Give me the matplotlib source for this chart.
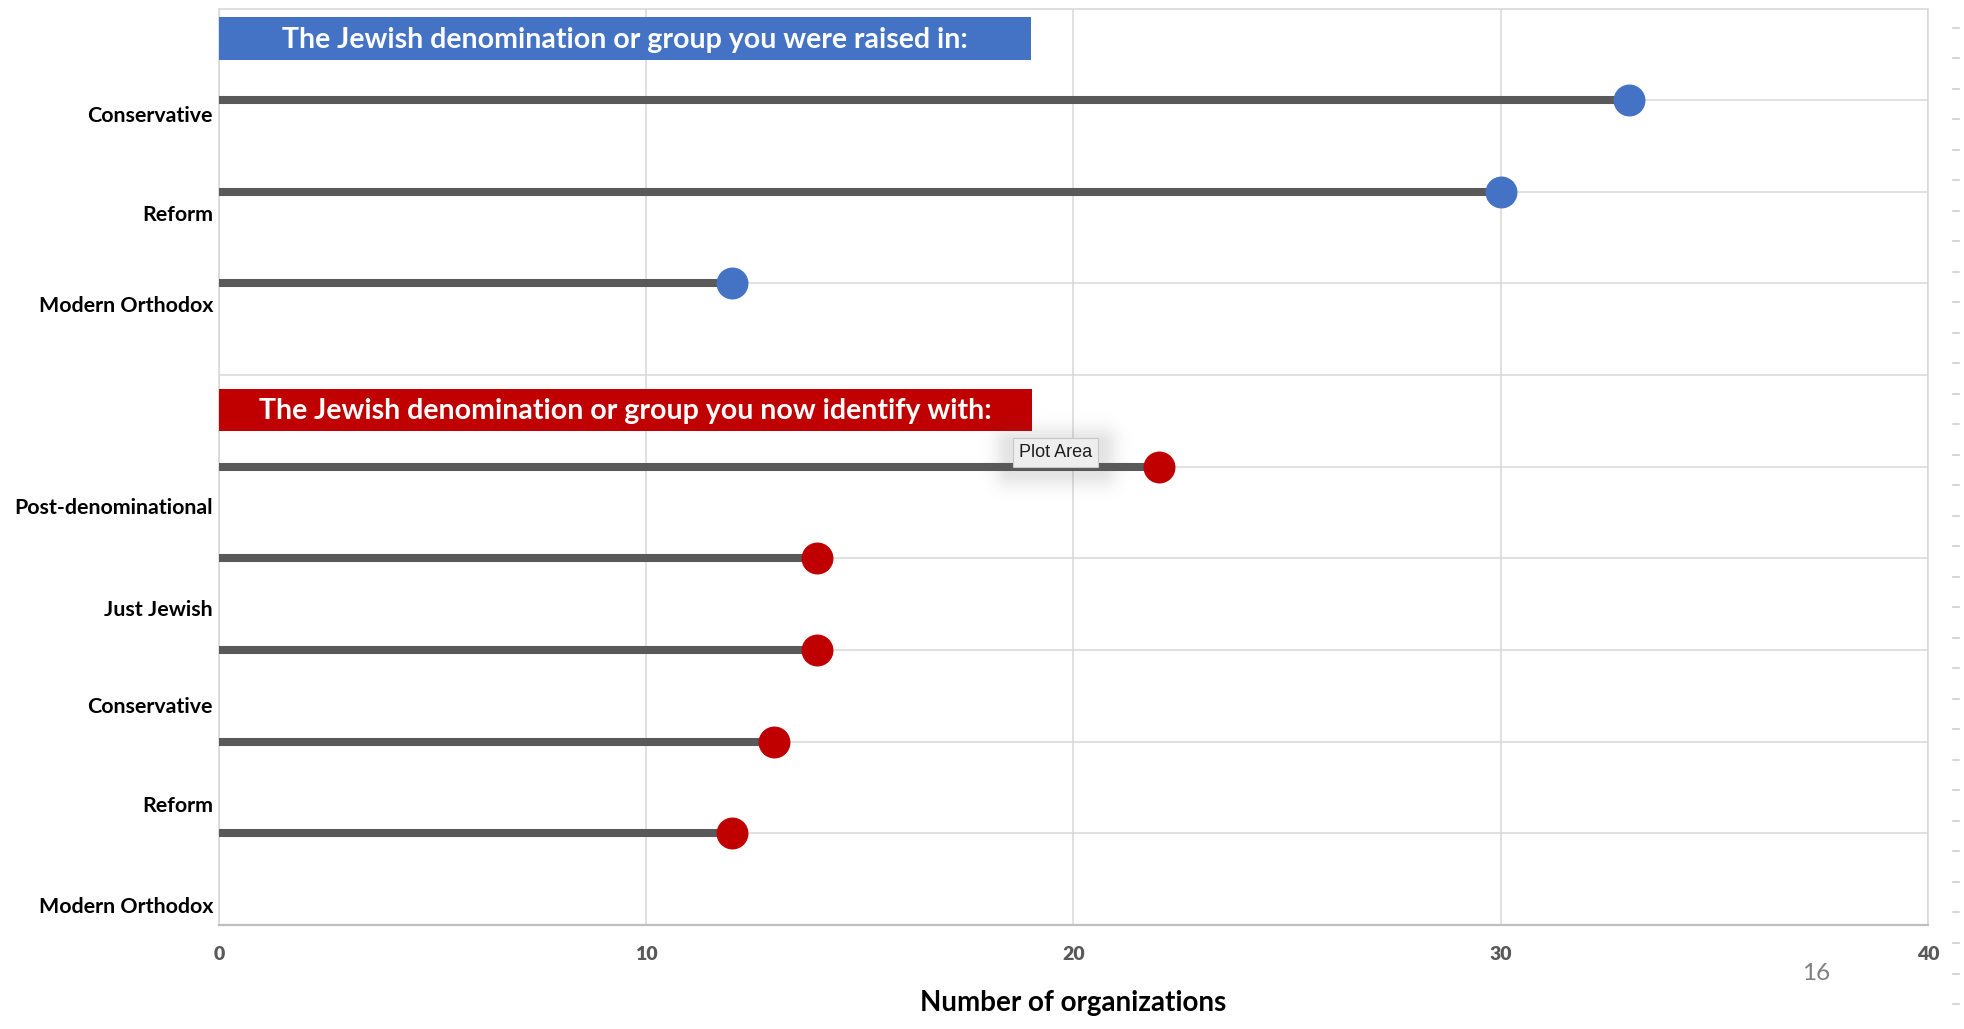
import numpy as np
import matplotlib
matplotlib.use("Agg")
import matplotlib.pyplot as plt
from matplotlib.patches import Rectangle
from matplotlib.lines import Line2D

# ---- data -------------------------------------------------------------
raised_labels = ["Conservative", "Reform", "Modern Orthodox"]
raised_values = [33, 30, 12]

now_labels = ["Post-denominational", "Just Jewish", "Conservative", "Reform", "Modern Orthodox"]
now_values = [22, 14, 14, 13, 12]

x_ticks = [0, 10, 20, 30, 40]
raised_title = "The Jewish denomination or group you were raised in:"
now_title = "The Jewish denomination or group you now identify with:"
x_title = "Number of organizations"
page_number = "16"
tooltip_text = "Plot Area"

# ---- layout -----------------------------------------------------------
raised_rows = [9, 8, 7]
now_rows = [5, 4, 3, 2, 1]
raised_label_y = [8.83, 7.75, 6.75]
now_label_y = [4.55, 3.44, 2.38, 1.30, 0.20]

BLUE = "#4472C4"
RED = "#C00000"
STEM = "#595959"
GRID = "#D9D9D9"

plt.rcParams["font.family"] = ["Lato", "DejaVu Sans"]

W, H = 1965, 1029
fig = plt.figure(figsize=(W / 100, H / 100), dpi=100)
fig.patch.set_facecolor("white")

ax_l, ax_r, ax_t, ax_b = 219, 1928, 8.5, 925
ax = fig.add_axes([ax_l / W, 1 - ax_b / H, (ax_r - ax_l) / W, (ax_b - ax_t) / H])
ax.set_xlim(0, 40)
ax.set_ylim(0, 10)

# grid and frame
ax.set_xticks(x_ticks)
ax.set_yticks(range(1, 10))
ax.grid(True, color=GRID, lw=1.1, zorder=0)
ax.set_axisbelow(True)
ax.tick_params(axis="y", length=0, labelleft=False)
ax.tick_params(axis="x", length=0, pad=15)
ax.set_xticklabels([str(t) for t in x_ticks])
for tl in ax.get_xticklabels():
    tl.set_fontsize(14)
    tl.set_fontweight("heavy")
    tl.set_color("#595959")
for side in ("top", "left", "right"):
    ax.spines[side].set_color(GRID)
    ax.spines[side].set_linewidth(1.2)
ax.spines["bottom"].set_color("#BFBFBF")
ax.spines["bottom"].set_linewidth(1.6)

# lollipops
ax.hlines(raised_rows, 0, raised_values, color=STEM, lw=5.8, zorder=3, capstyle="butt")
ax.plot(raised_values, raised_rows, "o", ms=23, color=BLUE, mec="none", zorder=4)
ax.hlines(now_rows, 0, now_values, color=STEM, lw=5.8, zorder=3, capstyle="butt")
ax.plot(now_values, now_rows, "o", ms=23, color=RED, mec="none", zorder=4)

# category labels
ytrans = ax.get_yaxis_transform()
for lab, y in zip(raised_labels + now_labels, raised_label_y + now_label_y):
    ax.text(-0.0035, y, lab, transform=ytrans, ha="right", va="center",
            fontsize=15.4, fontweight="bold", color="black", clip_on=False)

# section banners
ax.add_patch(Rectangle((0, 9.44), 19.0, 0.47, facecolor=BLUE, edgecolor="none", zorder=5))
ax.text(9.5, 9.66, raised_title, ha="center", va="center", color="white",
        fontsize=20.5, fontweight="bold", zorder=6)
ax.add_patch(Rectangle((0, 5.39), 19.03, 0.455, facecolor=RED, edgecolor="none", zorder=5))
ax.text(9.515, 5.605, now_title, ha="center", va="center", color="white",
        fontsize=20.5, fontweight="bold", zorder=6)

# axis title
ax.set_xlabel(x_title, fontsize=20, fontweight="bold", color="black", va="center")
ax.xaxis.set_label_coords(0.5, (ax_b - 1003.5) / (ax_b - ax_t))

# hover tooltip with a soft shadow
bx0, by0, bx1, by1 = 1010, 438, 1101, 467
m = 45
sh_h, sh_w = (by1 - by0) + 2 * m, (bx1 - bx0) + 2 * m
yy, xx = np.mgrid[0:sh_h, 0:sh_w]
dx = np.maximum(np.maximum(m - xx, xx - (sh_w - m)), 0)
dy = np.maximum(np.maximum(m + 4 - yy, yy - (sh_h - m + 4)), 0)
dist = np.hypot(dx, dy)
shadow = np.zeros((sh_h, sh_w, 4))
shadow[..., :3] = 0.35
shadow[..., 3] = 0.16 * np.exp(-(dist / 16.0) ** 2)
fig.figimage(shadow, xo=bx0 - m, yo=H - by1 - m, origin="upper", zorder=5)
fig.text((bx0 + bx1) / 2 / W, 1 - (by0 + by1) / 2 / H, tooltip_text,
         ha="center", va="center", fontsize=13, color="#1E1E1E",
         family=["Liberation Sans", "DejaVu Sans"], zorder=7,
         bbox=dict(boxstyle="square,pad=0.33", facecolor="#EEEEEE", edgecolor="#C8C8C8", lw=0.8))

# ruler marks along the right edge
for k in range(33):
    yk = 27.7 + 30.51 * k
    fig.add_artist(Line2D([1952.7 / W, 1959 / W], [1 - yk / H] * 2,
                          transform=fig.transFigure, color="#CFCFCF", lw=1.2))

# page number
fig.text(1816.6 / W, 1 - 973.5 / H, page_number, ha="center", va="center",
         fontsize=17.5, color="#808080")

fig.savefig("out.png", dpi=100, facecolor="white")
